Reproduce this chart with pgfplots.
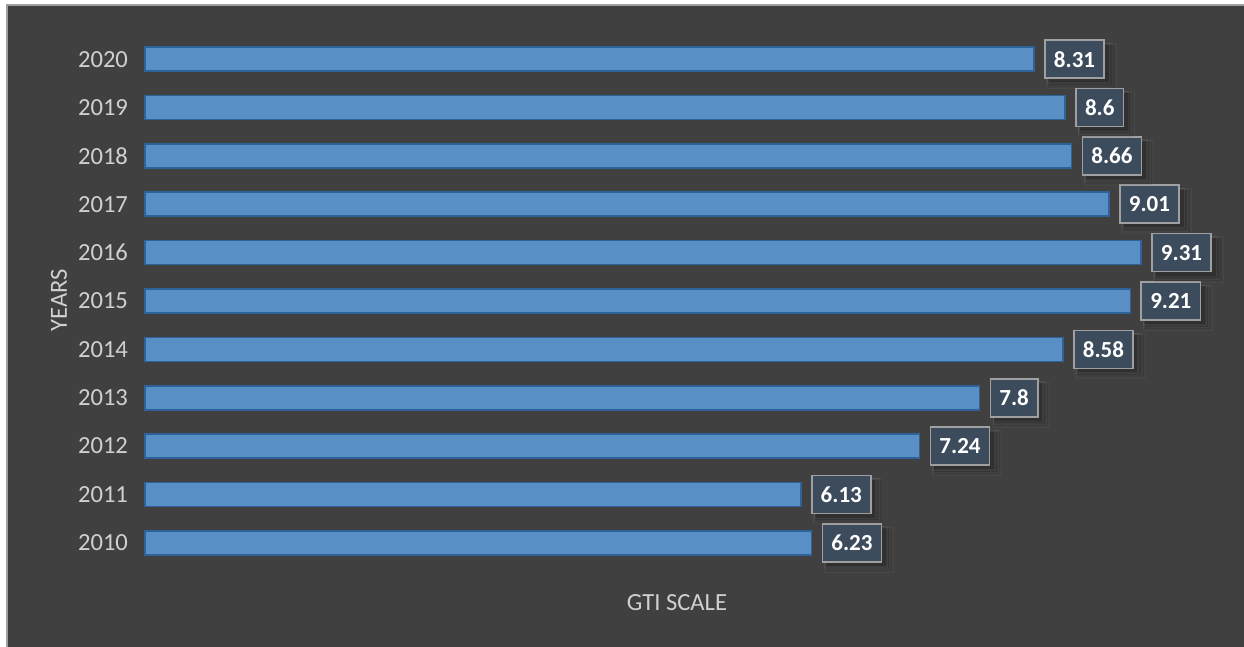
\documentclass[border=0pt]{standalone}
\usepackage{pgfplots}
\pgfplotsset{compat=1.18}
\usepackage{fontspec}
\setmainfont{Carlito}
\usetikzlibrary{shadows}
\definecolor{bgdark}{HTML}{404040}
\definecolor{barfill}{HTML}{5A8FC6}
\definecolor{barline}{HTML}{2E6399}
\definecolor{boxfill}{HTML}{3C4C5D}
\definecolor{boxline}{HTML}{A0A0A0}
\definecolor{lbl}{HTML}{D0D0D0}
\begin{document}
\begin{tikzpicture}
% pixel (px,py) -> ((px-145)*0.5pt, (567-py)*0.5pt)
\path[use as bounding box] (-72.5pt,-40pt) rectangle (549.5pt,283.5pt);
\fill[white] (-72.5pt,-40pt) rectangle (549.5pt,283.5pt);
\fill[bgdark] (-69pt,-40pt) rectangle (549.5pt,281pt);
\draw[gray!75, line width=0.8pt] (-69pt,-41pt) -- (-69pt,281pt) -- (550pt,281pt);
\begin{axis}[
  at={(0pt,0pt)}, anchor=south west,
  scale only axis, width=535pt, height=266pt,
  xbar, bar width=12pt,
  xmin=0, xmax=10, ymin=-0.5, ymax=10.5,
  axis line style={draw=none},
  xtick=\empty,
  ytick={0,...,10},
  yticklabels={2010,2011,2012,2013,2014,2015,2016,2017,2018,2019,2020},
  y tick label style={font=\fontsize{12.3}{14}\selectfont, text=lbl},
  major tick length=0pt,
  yticklabel style={xshift=-5pt},
  tick style={draw=none},
  clip=false,
  /pgf/number format/assume math mode=true,
  nodes near coords,
  nodes near coords align={horizontal},
  every node near coord/.append style={
    font=\bfseries\fontsize{11.5}{13}\selectfont, text=white,
    fill=boxfill, draw=boxline, line width=0.8pt,
    minimum height=19pt, inner xsep=4.5pt, inner ysep=2pt,
    anchor=west, xshift=5pt,
    general shadow={fill=black, opacity=0.07, shadow xshift=3pt, shadow yshift=-3pt, shadow scale=1.16},
    general shadow={fill=black, opacity=0.08, shadow xshift=2.5pt, shadow yshift=-2.5pt, shadow scale=1.1},
    general shadow={fill=black, opacity=0.10, shadow xshift=2pt, shadow yshift=-2pt, shadow scale=1.04},
  },
  point meta=explicit symbolic,
]
\addplot[fill=barfill, draw=barline, line width=0.8pt] coordinates {
  (6.23,0) [6.23]
  (6.13,1) [6.13]
  (7.24,2) [7.24]
  (7.8,3) [7.8]
  (8.58,4) [8.58]
  (9.21,5) [9.21]
  (9.31,6) [9.31]
  (9.01,7) [9.01]
  (8.66,8) [8.66]
  (8.6,9) [8.6]
  (8.31,10) [8.31]
};
\end{axis}
\node[text=lbl, font=\fontsize{12.3}{14}\selectfont, rotate=90] at (-43pt,133.5pt) {YEARS};
\node[text=lbl, font=\fontsize{12.3}{14}\selectfont] at (266pt,-18pt) {GTI SCALE};
\end{tikzpicture}
\end{document}
